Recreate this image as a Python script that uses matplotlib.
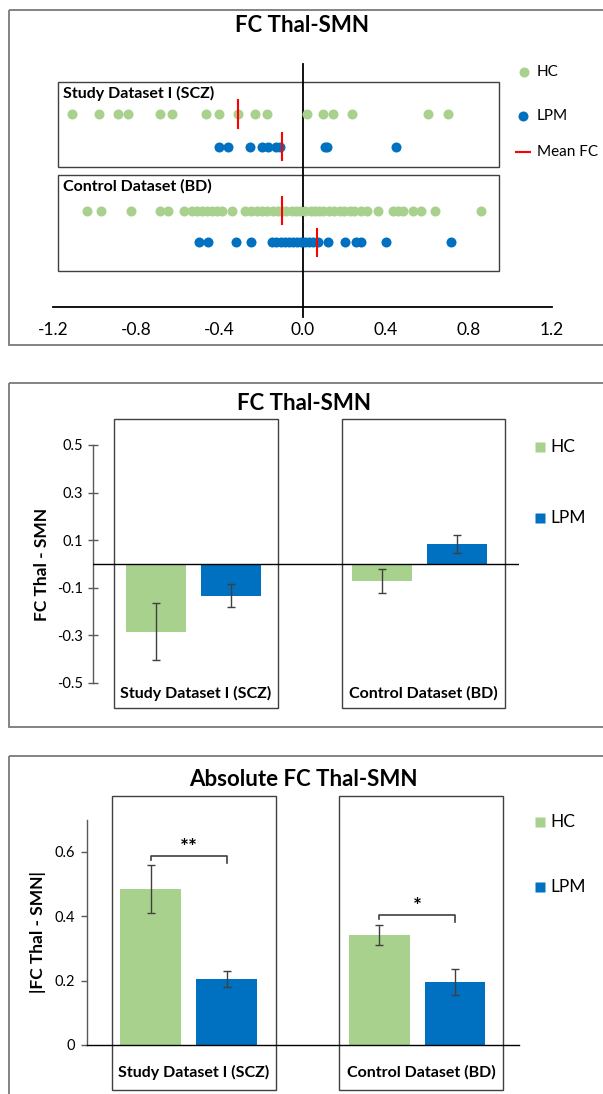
import matplotlib
matplotlib.use('Agg')
import matplotlib.pyplot as plt
from matplotlib.patches import Rectangle

plt.rcParams['font.family'] = ['Lato', 'DejaVu Sans']
plt.rcParams['axes.unicode_minus'] = False

W, H = 603, 1094
GREEN = '#A9D18E'
BLUE = '#0070C0'
RED = '#FF0000'
DARK = '#404040'
FRAME = '#7A7A7A'

# ---------------- data ----------------
groups = ['Study Dataset I (SCZ)', 'Control Dataset (BD)']
series = ['HC', 'LPM']

scz_hc = [-1.11, -0.98, -0.89, -0.84, -0.685, -0.63, -0.465, -0.40, -0.31, -0.23,
          -0.17, 0.02, 0.10, 0.145, 0.24, 0.605, 0.70]
scz_lpm = [-0.40, -0.36, -0.255, -0.195, -0.165, -0.13, -0.11, 0.11, 0.12, 0.45]
bd_hc = [-1.04, -0.97, -0.825, -0.685, -0.65, -0.573, -0.533, -0.51, -0.485, -0.46,
         -0.437, -0.41, -0.39, -0.34, -0.276, -0.25, -0.22, -0.196, -0.17, -0.14,
         -0.12, -0.10, -0.08, -0.05, -0.03, -0.01, 0.01, 0.04, 0.06, 0.08, 0.10,
         0.13, 0.15, 0.18, 0.20, 0.23, 0.25, 0.28, 0.31, 0.363, 0.435, 0.46, 0.483,
         0.53, 0.573, 0.637, 0.86]
bd_lpm = [-0.50, -0.453, -0.32, -0.248, -0.148, -0.127, -0.103, -0.084, -0.065,
          -0.046, -0.026, -0.007, 0.012, 0.031, 0.05, 0.075, 0.124, 0.204, 0.257,
          0.28, 0.40, 0.714]
mean_fc_scz = [-0.31, -0.10]   # HC, LPM
mean_fc_bd = [-0.10, 0.07]     # HC, LPM
scatter_ticks = [-1.2, -0.8, -0.4, 0.0, 0.4, 0.8, 1.2]

fc_hc = [-0.285, -0.072]
fc_hc_err = [0.12, 0.05]
fc_lpm = [-0.133, 0.085]
fc_lpm_err = [0.047, 0.038]
fc_ticks = [-0.5, -0.3, -0.1, 0.1, 0.3, 0.5]

abs_hc = [0.485, 0.34]
abs_hc_err = [0.075, 0.031]
abs_lpm = [0.205, 0.195]
abs_lpm_err = [0.025, 0.04]
abs_ticks = [0, 0.2, 0.4, 0.6]
sig_labels = ['**', '*']
sig_heights = [0.587, 0.404]

# ---------------- figure ----------------
fig = plt.figure(figsize=(W / 100, H / 100), dpi=100)
bg = fig.add_axes([0, 0, 1, 1], zorder=0)
bg.set_xlim(0, W)
bg.set_ylim(H, 0)
bg.axis('off')


def px_axes(x0, y0, x1, y1):
    ax = fig.add_axes([x0 / W, 1 - y1 / H, (x1 - x0) / W, (y1 - y0) / H], zorder=2)
    ax.set_facecolor('none')
    return ax


def rect(x0, y0, x1, y1, color, lw):
    bg.add_patch(Rectangle((x0, y0), x1 - x0, y1 - y0, fill=False,
                           edgecolor=color, linewidth=lw))


# panel frames
rect(8.5, 10, 640, 345, FRAME, 1.3)
rect(8.5, 383, 640, 727, FRAME, 1.3)
rect(8.5, 756, 640, 1120, FRAME, 1.3)

# ================= Panel 1: scatter =================
bg.text(302, 26, 'FC Thal-SMN', ha='center', va='center', fontsize=16, fontweight='bold')
rect(58.3, 82, 499, 167, DARK, 1.0)
rect(58.3, 175, 499, 271, DARK, 1.0)
bg.text(62.7, 93, groups[0], ha='left', va='center', fontsize=11.5, fontweight='bold')
bg.text(62.7, 186, groups[1], ha='left', va='center', fontsize=11.5, fontweight='bold')

ax1 = px_axes(53.3, 64, 551.7, 307)
ax1.set_xlim(-1.2, 1.2)
ax1.set_ylim(0, 1)
rows = {'scz_hc': 0.794, 'scz_lpm': 0.660, 'bd_hc': 0.396, 'bd_lpm': 0.266}
ax1.scatter(scz_hc, [rows['scz_hc']] * len(scz_hc), s=52, color=GREEN, linewidths=0, zorder=3)
ax1.scatter(scz_lpm, [rows['scz_lpm']] * len(scz_lpm), s=52, color=BLUE, linewidths=0, zorder=3)
ax1.scatter(bd_hc, [rows['bd_hc']] * len(bd_hc), s=52, color=GREEN, linewidths=0, zorder=3)
ax1.scatter(bd_lpm, [rows['bd_lpm']] * len(bd_lpm), s=52, color=BLUE, linewidths=0, zorder=3)
hh = 0.056
for m, r in zip(mean_fc_scz, ['scz_hc', 'scz_lpm']):
    ax1.plot([m, m], [rows[r] - hh, rows[r] + hh], color=RED, lw=1.5, zorder=4)
for m, r in zip(mean_fc_bd, ['bd_hc', 'bd_lpm']):
    ax1.plot([m, m], [rows[r] - hh, rows[r] + hh], color=RED, lw=1.5, zorder=4)
ax1.plot([0, 0], [-0.041, 1.0], color='black', lw=1.3, clip_on=False, zorder=2)
for s in ['top', 'right', 'left']:
    ax1.spines[s].set_visible(False)
ax1.spines['bottom'].set_color('black')
ax1.spines['bottom'].set_linewidth(1.3)
ax1.set_yticks([])
ax1.set_xticks(scatter_ticks)
ax1.set_xticklabels([f'{t:.1f}' for t in scatter_ticks])
ax1.tick_params(axis='x', length=0, pad=11, labelsize=12.5)

# legend panel 1
bg.plot([524.3], [71.7], 'o', ms=7.2, color=GREEN, mec='none')
bg.text(536.7, 71.7, 'HC', ha='left', va='center', fontsize=11)
bg.plot([522.7], [116], 'o', ms=7.2, color=BLUE, mec='none')
bg.text(536.7, 116, 'LPM', ha='left', va='center', fontsize=11)
bg.plot([516, 530], [151.7, 151.7], color=RED, lw=1.5)
bg.text(536.7, 151.7, 'Mean FC', ha='left', va='center', fontsize=11)

# ================= Panel 2: FC bars =================
bg.text(304, 403, 'FC Thal-SMN', ha='center', va='center', fontsize=16, fontweight='bold')
rect(113.8, 419.3, 277.7, 708, DARK, 1.0)
rect(342, 419.3, 505.4, 708, DARK, 1.0)
bg.text(195.7, 693, groups[0], ha='center', va='center', fontsize=11.5, fontweight='bold')
bg.text(423.7, 693, groups[1], ha='center', va='center', fontsize=11.5, fontweight='bold')
bg.text(42, 564, 'FC Thal - SMN', ha='center', va='center', rotation=90,
        fontsize=12.5, fontweight='bold')

x = [0, 1]
off = 0.166
bw = 0.266
ax2 = px_axes(93.5, 445, 519, 683)
ax2.set_xlim(-0.443, 1.443)
ax2.set_ylim(-0.5, 0.5)
ekw = dict(ecolor=DARK, elinewidth=1.0, capsize=3, capthick=1.0)
ax2.bar([g - off for g in x], fc_hc, bw, color=GREEN, yerr=fc_hc_err, error_kw=ekw, zorder=2)
ax2.bar([g + off for g in x], fc_lpm, bw, color=BLUE, yerr=fc_lpm_err, error_kw=ekw, zorder=2)
ax2.axhline(0, color='black', lw=1.0, zorder=3)
for s in ['top', 'right', 'bottom']:
    ax2.spines[s].set_visible(False)
ax2.spines['left'].set_color('#595959')
ax2.spines['left'].set_linewidth(1.0)
ax2.set_xticks([])
ax2.set_yticks(fc_ticks)
ax2.set_yticklabels([f'{t:.1f}' for t in fc_ticks])
ax2.tick_params(axis='y', direction='inout', length=7, width=1.0, color='#595959',
                labelsize=10.5, pad=4)

bg.plot([540], [446.7], 's', ms=7, color=GREEN, mec='none')
bg.text(550, 446.7, 'HC', ha='left', va='center', fontsize=12.5)
bg.plot([540], [518.3], 's', ms=7, color=BLUE, mec='none')
bg.text(550, 518.3, 'LPM', ha='left', va='center', fontsize=12.5)

# ================= Panel 3: absolute FC bars =================
bg.text(303, 779, 'Absolute FC Thal-SMN', ha='center', va='center', fontsize=16,
        fontweight='bold')
rect(112, 795.7, 276, 1090, DARK, 1.0)
rect(339, 795.7, 503, 1090, DARK, 1.0)
bg.text(194, 1072.7, groups[0], ha='center', va='center', fontsize=11.5, fontweight='bold')
bg.text(421, 1072.7, groups[1], ha='center', va='center', fontsize=11.5, fontweight='bold')
bg.text(38, 932, '|FC Thal - SMN|', ha='center', va='center', rotation=90,
        fontsize=12.5, fontweight='bold')

ax3 = px_axes(87.3, 819.5, 519, 1045)
ax3.set_xlim(-0.444, 1.446)
ax3.set_ylim(0, 0.7)
ax3.bar([g - off for g in x], abs_hc, bw, color=GREEN, yerr=abs_hc_err, error_kw=ekw, zorder=2)
ax3.bar([g + off for g in x], abs_lpm, bw, color=BLUE, yerr=abs_lpm_err, error_kw=ekw, zorder=2)
for s in ['top', 'right']:
    ax3.spines[s].set_visible(False)
ax3.spines['bottom'].set_color('black')
ax3.spines['bottom'].set_linewidth(1.0)
ax3.spines['left'].set_color('#595959')
ax3.spines['left'].set_linewidth(1.0)
ax3.set_xticks([])
ax3.set_yticks(abs_ticks)
ax3.set_yticklabels(['0' if t == 0 else f'{t:.1f}' for t in abs_ticks])
ax3.tick_params(axis='y', direction='out', length=4, width=1.0, color='#595959',
                labelsize=10.5, pad=5)
for g, lab, hgt in zip(x, sig_labels, sig_heights):
    ax3.plot([g - off, g - off, g + off, g + off], [hgt - 0.013, hgt, hgt, hgt - 0.022],
             color=DARK, lw=1.2, zorder=4)
    ax3.text(g, hgt - 0.006, lab, ha='center', va='bottom', fontsize=15, fontweight='bold')

bg.plot([540], [821.7], 's', ms=7, color=GREEN, mec='none')
bg.text(550, 821.7, 'HC', ha='left', va='center', fontsize=12.5)
bg.plot([540], [886.7], 's', ms=7, color=BLUE, mec='none')
bg.text(550, 886.7, 'LPM', ha='left', va='center', fontsize=12.5)

fig.savefig('out.png', dpi=100)
